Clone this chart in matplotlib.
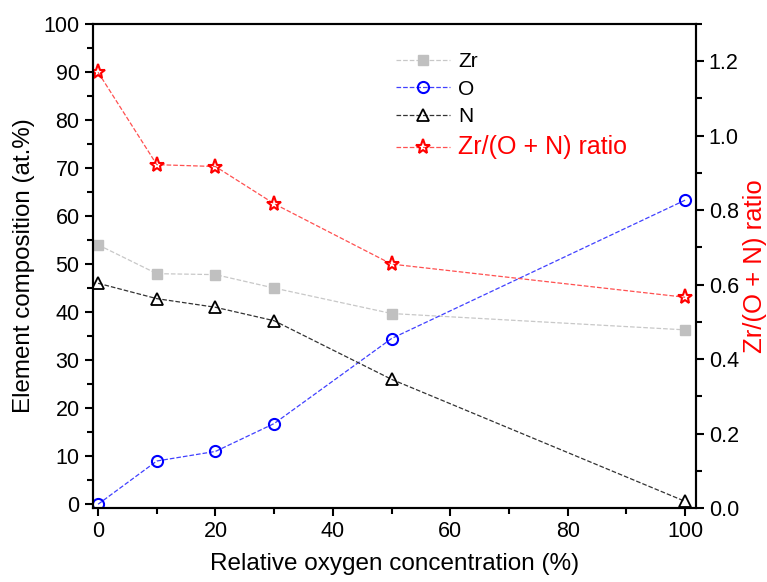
import numpy as np
import matplotlib
matplotlib.use("Agg")
import matplotlib.pyplot as plt
from matplotlib.ticker import MultipleLocator

plt.rcParams["font.family"] = ["Liberation Sans", "DejaVu Sans"]

# data
oxygen = [0, 10, 20, 30, 50, 100]
zr = [54.0, 48.0, 47.8, 45.0, 39.7, 36.3]
o = [0.0, 9.0, 11.0, 16.8, 34.5, 63.3]
n = [46.0, 42.8, 41.0, 38.2, 26.0, 0.6]
ratio = [1.17, 0.922, 0.917, 0.817, 0.655, 0.566]

fig = plt.figure(figsize=(7.67, 5.82), dpi=100)
ax = fig.add_axes([0.121, 0.127, 0.786, 0.832])
ax2 = ax.twinx()

l1, = ax.plot(oxygen, zr, ls="--", lw=0.9, color="#c8c8c8", marker="s", ms=7,
              mfc="#c0c0c0", mec="#c0c0c0", label="Zr")
l2, = ax.plot(oxygen, o, ls="--", lw=0.9, color="#4040ff", marker="o", ms=8,
              mfc="none", mec="#0000ff", mew=1.5, label="O")
l3, = ax.plot(oxygen, n, ls="--", lw=0.9, color="#333333", marker="^", ms=8,
              mfc="none", mec="black", mew=1.3, label="N")
l4, = ax2.plot(oxygen, ratio, ls="--", lw=0.9, color="#ff5050", marker="*", ms=11,
               mfc="none", mec="red", mew=1.5, label="Zr/(O + N) ratio")

ax.set_xlim(-0.9, 101.8)
ax.set_ylim(-0.8, 100)
ax2.set_ylim(0, 1.3)

ax.xaxis.set_major_locator(MultipleLocator(20))
ax.xaxis.set_minor_locator(MultipleLocator(10))
ax.yaxis.set_major_locator(MultipleLocator(10))
ax.yaxis.set_minor_locator(MultipleLocator(5))
ax2.yaxis.set_major_locator(MultipleLocator(0.2))
ax2.yaxis.set_minor_locator(MultipleLocator(0.1))
ax2.yaxis.set_major_formatter(matplotlib.ticker.FormatStrFormatter("%.1f"))

for a in (ax, ax2):
    a.tick_params(which="major", direction="out", length=6, width=1.5, labelsize=15.5)
    a.tick_params(which="minor", direction="out", length=4, width=1.5)
    for s in a.spines.values():
        s.set_linewidth(1.5)

ax.set_xlabel("Relative oxygen concentration (%)", fontsize=17.5, labelpad=8)
ax.set_ylabel("Element composition (at.%)", fontsize=17.4, labelpad=6)
ax2.set_ylabel("Zr/(O + N) ratio", fontsize=18.5, color="red", labelpad=3)

leg = ax.legend(handles=[l1, l2, l3, l4], loc="upper left", bbox_to_anchor=(0.471, 0.981),
                frameon=False, fontsize=15, handlelength=2.6, handletextpad=0.4,
                labelspacing=0.42)
txt = leg.get_texts()[3]
txt.set_color("red")
txt.set_fontsize(18)

fig.savefig("out.png", dpi=100)
